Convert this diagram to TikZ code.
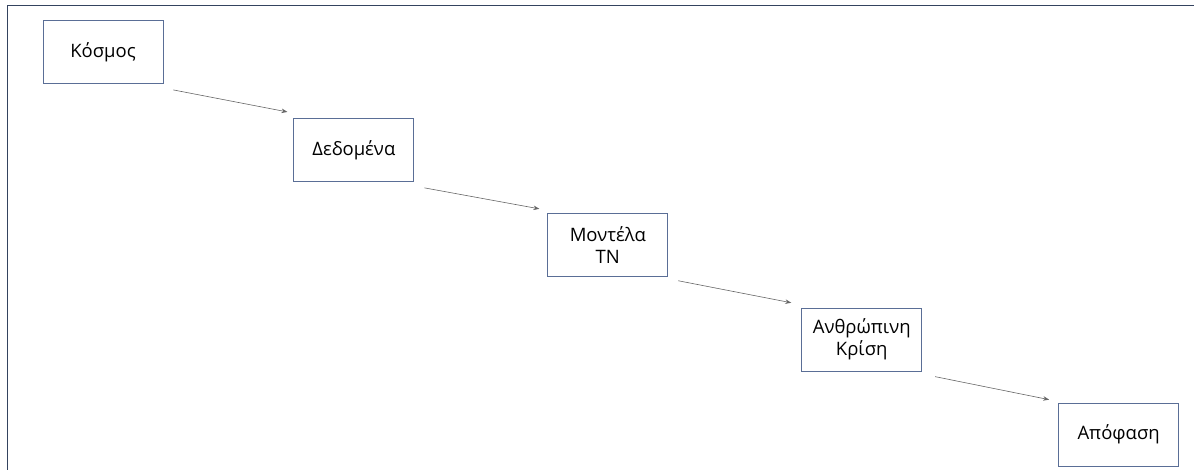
\documentclass[tikz,border=0pt]{standalone}
\usepackage{fontspec}
\setmainfont{Open Sans}
\usetikzlibrary{positioning,arrows.meta}

\definecolor{frameblue}{HTML}{34435F}
\definecolor{boxblue}{HTML}{5A6E96}

\begin{document}
\begin{tikzpicture}[
  x=1pt, y=1pt,
  stagebox/.style={draw=boxblue, line width=0.9pt, fill=white, align=center, minimum width=120pt, minimum height=63pt, inner sep=2pt, font=\fontsize{18.5}{22}\selectfont},
  arr/.style={-{Stealth[length=6pt, width=4.5pt]}, draw=gray!80!black, line width=0.6pt}
]
\useasboundingbox (0,0) rectangle (1194,-470);
% frame, top and left edge only
\draw[frameblue, line width=1.8pt] (7.5,-470) -- (7.5,-5.5) -- (1194,-5.5);

% the chain
\node[stagebox] (kosmos) at (103,-52) {Κόσμος};
\node[stagebox, below right=34pt and 130pt of kosmos.south east, anchor=north west] (dedomena) {Δεδομένα};
\node[stagebox, below right=31pt and 133pt of dedomena.south east, anchor=north west] (montela) {Μοντέλα\\ΤΝ};
\node[stagebox, below right=31pt and 133pt of montela.south east, anchor=north west] (krisi) {Ανθρώπινη\\Κρίση};
\node[stagebox, below right=31pt and 136pt of krisi.south east, anchor=north west] (apofasi) {Απόφαση};

% arrows float in the gaps
\draw[arr] ([xshift=10pt, yshift=-6pt]kosmos.south east) -- ([xshift=-6pt, yshift=6pt]dedomena.north west);
\draw[arr] ([xshift=10pt, yshift=-6pt]dedomena.south east) -- ([xshift=-8pt, yshift=4pt]montela.north west);
\draw[arr] ([xshift=10pt, yshift=-4pt]montela.south east) -- ([xshift=-10pt, yshift=5pt]krisi.north west);
\draw[arr] ([xshift=13pt, yshift=-5pt]krisi.south east) -- ([xshift=-9pt, yshift=3pt]apofasi.north west);
\end{tikzpicture}
\end{document}
